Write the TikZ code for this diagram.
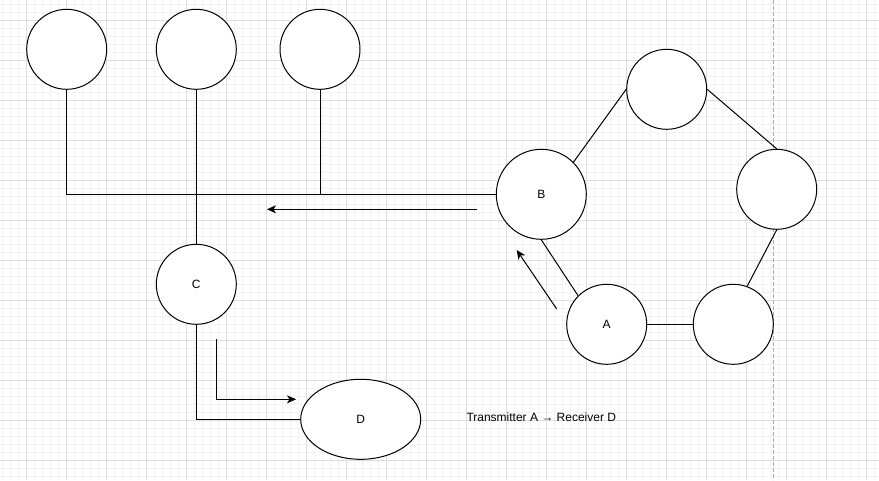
\documentclass[tikz,border=0pt]{standalone}
\usepackage{fontspec}
\setmainfont{Liberation Sans}
\usetikzlibrary{shapes.geometric,arrows.meta}
\definecolor{gridmajor}{HTML}{DFDFDF}
\definecolor{gridminor}{HTML}{F3F3F3}
\definecolor{dashgray}{HTML}{ABABAB}
\tikzset{
  circ/.style={circle,draw=black,fill=white,line width=1pt,minimum size=80pt,inner sep=0pt,font=\fontsize{12}{14}\selectfont},
  ell/.style={ellipse,draw=black,fill=white,line width=1pt,minimum width=120pt,minimum height=80pt,inner sep=0pt,font=\fontsize{12}{14}\selectfont},
  txt/.style={inner sep=0pt,font=\fontsize{12}{14}\selectfont},
  conn/.style={draw=black,line width=1pt},
  arr/.style={draw=black,line width=1pt,-{Stealth[length=9pt,width=8pt,inset=2.5pt]}},
  minorline/.style={draw=gridminor,line width=1pt},
  majorline/.style={draw=gridmajor,line width=1pt},
}
\begin{document}
\begin{tikzpicture}[x=1pt,y=-1pt]
\useasboundingbox (0,0) rectangle (879,480);
\fill[white] (0,0) rectangle (879,480);
% grid
\foreach \i in {0,...,109} {\draw[minorline] ({2.667+8*\i},0) -- ({2.667+8*\i},480);}
\foreach \j in {0,...,59} {\draw[minorline] (0,{4+8*\j}) -- (879,{4+8*\j});}
\foreach \i in {0,...,21} {\draw[majorline] ({26.667+40*\i},0) -- ({26.667+40*\i},480);}
\foreach \j in {0,...,11} {\draw[majorline] (0,{20+40*\j}) -- (879,{20+40*\j});}
\draw[dashgray,line width=1pt,dash pattern=on 4pt off 2pt] (773.3,0) -- (773.3,480);
% coordinates for free ends
\coordinate (j3) at (320,195);
\coordinate (a1s) at (476.7,209.3);
\coordinate (a1e) at (267,209.3);
\coordinate (a2s) at (556.7,309);
\coordinate (a2e) at (516.7,250);
\coordinate (a3s) at (216.7,339.3);
\coordinate (a3e) at (296,399.3);
% connectors first (under nodes)
\path (66.7,49.3) coordinate (t1c) (196.3,49.3) coordinate (t2c) (320,49.3) coordinate (t3c);
% nodes
\node[circ] (t1) at (t1c) {};
\node[circ] (t2) at (t2c) {};
\node[circ] (t3) at (t3c) {};
\node[circ,minimum size=90pt] (B) at (541.3,194.3) {B};
\node[circ] (P1) at (666.7,89.3) {};
\node[circ] (P2) at (776.7,189.3) {};
\node[circ] (P3) at (733.3,324.3) {};
\node[circ] (A) at (606.7,324.3) {A};
\node[circ] (C) at (196.3,284.3) {C};
\node[ell] (D) at (360.7,419.3) {D};
\node[txt] (T) at (541.3,417.5) {Transmitter A → Receiver D};
% connectors
\draw[conn] (t1.south) |- (B.west);
\draw[conn] (t3.south) -- (j3);
\draw[conn] (t2.south) -- (C.north);
\draw[conn] (C.south) |- (D.west);
\draw[conn] (B.45) -- (P1.west);
\draw[conn] (P1.east) -- (P2.north);
\draw[conn] (P2.south) -- (P3.70);
\draw[conn] (A.east) -- (P3.west);
\draw[conn] (B.south) -- (A.135);
% arrows
\draw[arr] (a1s) -- (a1e);
\draw[arr] (a2s) -- (a2e);
\draw[arr] (a3s) |- (a3e);
\end{tikzpicture}
\end{document}
